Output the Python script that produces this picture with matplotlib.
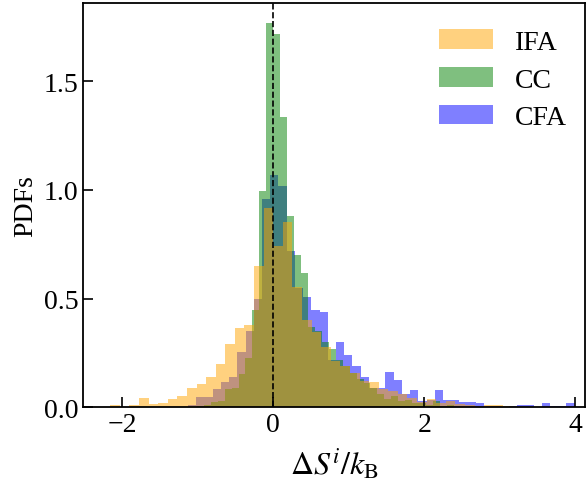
import numpy as np
import matplotlib
matplotlib.use("Agg")
import matplotlib.pyplot as plt

# Histogram-Daten (PDF-Werte je Bin)
ifa_start, ifa_width = -2.159, 0.127
ifa_pdf = [0.01, 0.0, 0.01, 0.045, 0.015, 0.02, 0.04, 0.05, 0.087, 0.107,
           0.14, 0.2, 0.29, 0.365, 0.38, 0.65, 0.917,
           0.743, 0.853, 0.555, 0.40, 0.345, 0.278, 0.215, 0.19, 0.16, 0.12,
           0.118, 0.085, 0.075, 0.062, 0.045, 0.025, 0.04, 0.02, 0.031, 0.015,
           0.012, 0.008, 0.012, 0.012, 0.005]

cc_start, cc_width = -1.012, 0.092
cc_pdf = [0.005, 0.01, 0.025, 0.03, 0.085, 0.09, 0.155, 0.225, 0.45, 0.993,
          1.769, 1.717, 1.335, 0.88, 0.70, 0.62, 0.37, 0.35, 0.30, 0.27,
          0.22, 0.19, 0.16, 0.13, 0.11, 0.09, 0.06, 0.04, 0.05, 0.03,
          0.035, 0.02, 0.02, 0.01, 0.03, 0.005, 0.01]

cfa_start, cfa_width = -1.13, 0.109
cfa_pdf = [0.01, 0.047, 0.047, 0.085, 0.116, 0.14, 0.255, 0.353, 0.5, 0.958,
           1.071, 1.016, 0.72, 0.55, 0.506, 0.449, 0.44, 0.22, 0.30, 0.24,
           0.19, 0.14, 0.09, 0.09, 0.163, 0.127, 0.06, 0.08, 0.03, 0.035,
           0.08, 0.035, 0.035, 0.025, 0.025, 0.018, 0.005, 0.005, 0.0, 0.005,
           0.01, 0.01, 0.0, 0.02, 0.005, 0.005, 0.02]

series = [
    ("CFA", cfa_start, cfa_width, cfa_pdf, "blue"),
    ("CC", cc_start, cc_width, cc_pdf, "green"),
    ("IFA", ifa_start, ifa_width, ifa_pdf, "orange"),
]
legend_order = ["IFA", "CC", "CFA"]

plt.rcParams["font.family"] = ["Liberation Serif", "DejaVu Serif"]
plt.rcParams["mathtext.fontset"] = "stix"
plt.rcParams["font.size"] = 20

fig, ax = plt.subplots(figsize=(5.87, 4.85), dpi=100)
fig.subplots_adjust(left=0.1414, right=0.9966, bottom=0.158, top=0.9918)

handles = {}
for name, start, width, pdf, color in series:
    pdf = np.asarray(pdf)
    edges = start + width * np.arange(len(pdf) + 1)
    centers = 0.5 * (edges[:-1] + edges[1:])
    _, _, patches = ax.hist(centers, bins=edges, weights=pdf,
                            color=color, alpha=0.5, label=name)
    handles[name] = patches[0]

ax.axvline(0, color="k", linestyle="--", linewidth=1.2)

ax.set_xlim(-2.52, 4.13)
ax.set_ylim(0, 1.86)
ax.set_xticks([-2, 0, 2, 4])
ax.set_yticks([0.0, 0.5, 1.0, 1.5])
ax.tick_params(direction="in", length=7, width=1.2)
for sp in ax.spines.values():
    sp.set_linewidth(1.3)

ax.set_xlabel(r"$\Delta S^i/k_\mathrm{B}$", fontsize=23, labelpad=6)
ax.set_ylabel("PDFs")

ax.legend([handles[n] for n in legend_order], legend_order,
          loc="upper right", bbox_to_anchor=(1.0, 0.98), frameon=False,
          handlelength=1.95, handleheight=0.7, labelspacing=0.45,
          handletextpad=0.8, borderaxespad=0.25)

fig.savefig("out.png", dpi=100)
